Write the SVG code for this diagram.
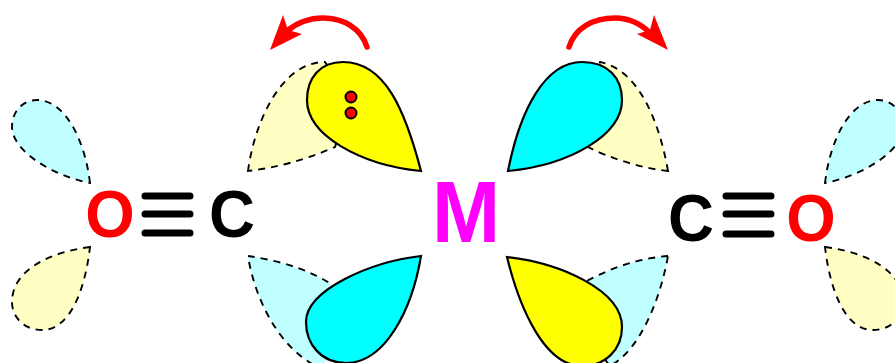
<svg xmlns="http://www.w3.org/2000/svg" width="895" height="363" viewBox="0 0 895 363">
<style>
.ghost{stroke:#000;stroke-width:1.9;stroke-dasharray:7 6}
.lobe{stroke:#000;stroke-width:2.2}
.py{fill:#ffffc4}.pc{fill:#bfffff}.y{fill:#ff0}.c{fill:#0ff}
text{font-family:"Liberation Sans",Arial,sans-serif;font-weight:bold;text-anchor:middle}
.bar{stroke:#000;stroke-width:7;stroke-linecap:round}
.arc{fill:none;stroke:#f00;stroke-width:5.5;stroke-linecap:round}
.head{fill:#f00}
.dot{fill:#f00;stroke:#000;stroke-width:2}
</style>
<rect width="895" height="363" fill="#fff"/>
<g id="oxygen-left-orbitals">
<path class="ghost pc" d="M90,183 C85,140 65,100 37,100 C22,100 12,112 12,127 C12,150 50,175 90,183Z"/>
<path class="ghost py" d="M90,247 C50,252 12,270 12,302 C12,318 25,330 42,330 C70,330 85,290 90,247Z"/>
</g>
<g id="oxygen-right-orbitals">
<path class="ghost pc" d="M825,183 C830,140 850,100 878,100 C893,100 903,112 903,127 C903,150 865,175 825,183Z"/>
<path class="ghost py" d="M825,247 C865,252 903,270 903,302 C903,318 890,330 873,330 C845,330 830,290 825,247Z"/>
</g>
<g id="carbon-left-orbitals">
<path class="ghost py" d="M248,171 C254,125 280,62 325,62 L350,100 L335,147 C305,160 275,168 248,171Z"/>
<path class="ghost pc" d="M248,256 C275,260 310,268 340,290 L345,340 L320,368 C280,350 255,300 248,256Z"/>
</g>
<g id="carbon-right-orbitals">
<path class="ghost py" d="M668,171 C660,125 640,70 600,62 L590,100 L588,147 C610,158 640,168 668,171Z"/>
<path class="ghost pc" d="M668,256 C640,258 610,268 585,282 L590,340 L610,366 C640,350 660,300 668,256Z"/>
</g>
<g id="metal-orbital-top-left">
<path class="lobe y" d="M421,171 C405,110 385,62 343,62 C320,62 307,78 307,100 C307,135 360,165 421,171Z"/>
<circle class="dot" cx="351" cy="97" r="5.5"/>
<circle class="dot" cx="351" cy="113" r="5.5"/>
</g>
<g id="metal-orbital-top-right">
<path class="lobe c" d="M508,171 C520,110 545,62 582,62 C608,62 622,78 622,100 C622,135 570,165 508,171Z"/>
</g>
<g id="metal-orbital-bottom-left">
<path class="lobe c" d="M421,256 C370,262 306,290 306,322 C306,345 322,363 346,363 C385,363 412,310 421,256Z"/>
</g>
<g id="metal-orbital-bottom-right">
<path class="lobe y" d="M507,257 C560,263 622,290 622,327 C622,350 605,366 582,366 C545,366 520,310 507,257Z"/>
</g>
<g id="connectors">
<path class="bar" d="M145,196H190M145,214H190M145,233H190M726,196H771M726,214H771M726,234H771"/>
<path class="arc" d="M367,47 C361,28 343,18 323,18 C310,18 298,22 287,31"/>
<path class="head" d="M270,50 L283,15 L288,30 L302,34Z"/>
<path class="arc" d="M569,47 C575,28 593,18 615,18 C628,18 640,23 650,33"/>
<path class="head" d="M668,50 L654,15 L650,30 L637,34Z"/>
</g>
<g id="label-o-left"><text transform="translate(110,237) scale(.95,1)" font-size="67" fill="#f00">O</text></g>
<g id="label-c-left"><text transform="translate(232,237) scale(.95,1)" font-size="67" fill="#000">C</text></g>
<g id="label-m"><text transform="translate(466,242) scale(.94,1)" font-size="87" fill="#f0f">M</text></g>
<g id="label-c-right"><text transform="translate(691,241) scale(.95,1)" font-size="67" fill="#000">C</text></g>
<g id="label-o-right"><text transform="translate(811,241) scale(.95,1)" font-size="67" fill="#f00">O</text></g>
</svg>
